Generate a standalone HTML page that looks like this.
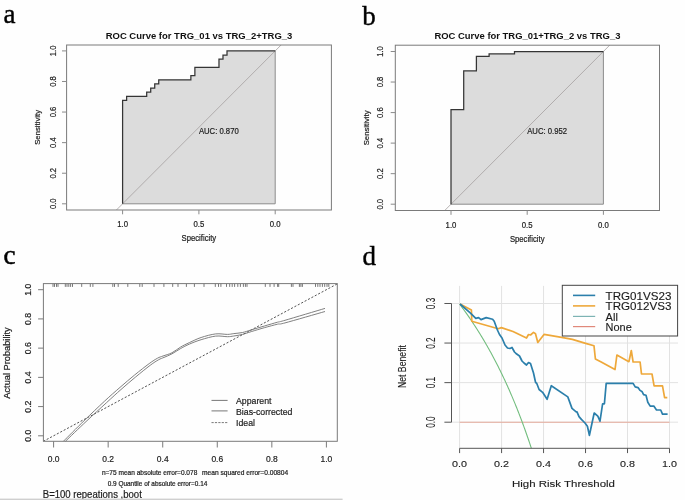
<!DOCTYPE html>
<html><head><meta charset="utf-8"><style>
html,body{margin:0;padding:0;background:#fefefe;}
svg{display:block;filter:blur(0.3px);}
</style></head><body>
<svg width="685" height="500" viewBox="0 0 685 500">
<rect width="685" height="500" fill="#fefefe"/>
<path d="M122.6 203.8 L122.6 100.49 L126.62 100.49 L126.62 96.36 L146.69 96.36 L146.69 92.22 L150.71 92.22 L150.71 88.09 L154.73 88.09 L154.73 83.96 L158.74 83.96 L158.74 79.83 L190.87 79.83 L190.87 75.69 L194.88 75.69 L194.88 67.43 L218.98 67.43 L218.98 59.16 L222.99 59.16 L222.99 55.03 L227.01 55.03 L227.01 50.9 L275.2 50.9 L275.2 203.8 L275.2 203.8 L122.6 203.8 Z" stroke="none" stroke-width="0" fill="#dcdcdc"/>
<clipPath id="ca"><rect x="66.6" y="45" width="264.8" height="165"/></clipPath>
<line x1="92.08" y1="234.38" x2="305.72" y2="20.32" stroke="#a9a4a4" stroke-width="0.85" clip-path="url(#ca)"/>
<line x1="275.2" y1="50.9" x2="275.2" y2="203.8" stroke="#8c8c8c" stroke-width="1"/>
<line x1="122.6" y1="203.8" x2="275.2" y2="203.8" stroke="#8c8c8c" stroke-width="1"/>
<path d="M122.6 203.8 L122.6 100.49 L126.62 100.49 L126.62 96.36 L146.69 96.36 L146.69 92.22 L150.71 92.22 L150.71 88.09 L154.73 88.09 L154.73 83.96 L158.74 83.96 L158.74 79.83 L190.87 79.83 L190.87 75.69 L194.88 75.69 L194.88 67.43 L218.98 67.43 L218.98 59.16 L222.99 59.16 L222.99 55.03 L227.01 55.03 L227.01 50.9 L275.2 50.9" stroke="#353535" stroke-width="1.25" fill="none" stroke-linejoin="miter"/>
<rect x="66.6" y="45" width="264.8" height="165" fill="none" stroke="#7a7a7a" stroke-width="1"/>
<line x1="62" y1="203.8" x2="66.6" y2="203.8" stroke="#8a8a8a" stroke-width="1"/>
<text x="55.7" y="203.8" font-size="8.6" text-anchor="middle" font-weight="normal" fill="#1c1c1c" font-family='"Liberation Sans", sans-serif' transform="rotate(-90 55.7 203.8)" textLength="10.6" lengthAdjust="spacingAndGlyphs" stroke="#1c1c1c" stroke-width="0.2">0.0</text>
<line x1="62" y1="173.22" x2="66.6" y2="173.22" stroke="#8a8a8a" stroke-width="1"/>
<text x="55.7" y="173.22" font-size="8.6" text-anchor="middle" font-weight="normal" fill="#1c1c1c" font-family='"Liberation Sans", sans-serif' transform="rotate(-90 55.7 173.22)" textLength="10.6" lengthAdjust="spacingAndGlyphs" stroke="#1c1c1c" stroke-width="0.2">0.2</text>
<line x1="62" y1="142.64" x2="66.6" y2="142.64" stroke="#8a8a8a" stroke-width="1"/>
<text x="55.7" y="142.64" font-size="8.6" text-anchor="middle" font-weight="normal" fill="#1c1c1c" font-family='"Liberation Sans", sans-serif' transform="rotate(-90 55.7 142.64)" textLength="10.6" lengthAdjust="spacingAndGlyphs" stroke="#1c1c1c" stroke-width="0.2">0.4</text>
<line x1="62" y1="112.06" x2="66.6" y2="112.06" stroke="#8a8a8a" stroke-width="1"/>
<text x="55.7" y="112.06" font-size="8.6" text-anchor="middle" font-weight="normal" fill="#1c1c1c" font-family='"Liberation Sans", sans-serif' transform="rotate(-90 55.7 112.06)" textLength="10.6" lengthAdjust="spacingAndGlyphs" stroke="#1c1c1c" stroke-width="0.2">0.6</text>
<line x1="62" y1="81.48" x2="66.6" y2="81.48" stroke="#8a8a8a" stroke-width="1"/>
<text x="55.7" y="81.48" font-size="8.6" text-anchor="middle" font-weight="normal" fill="#1c1c1c" font-family='"Liberation Sans", sans-serif' transform="rotate(-90 55.7 81.48)" textLength="10.6" lengthAdjust="spacingAndGlyphs" stroke="#1c1c1c" stroke-width="0.2">0.8</text>
<line x1="62" y1="50.9" x2="66.6" y2="50.9" stroke="#8a8a8a" stroke-width="1"/>
<text x="55.7" y="50.9" font-size="8.6" text-anchor="middle" font-weight="normal" fill="#1c1c1c" font-family='"Liberation Sans", sans-serif' transform="rotate(-90 55.7 50.9)" textLength="10.6" lengthAdjust="spacingAndGlyphs" stroke="#1c1c1c" stroke-width="0.2">1.0</text>
<line x1="122.6" y1="210" x2="122.6" y2="214.3" stroke="#8a8a8a" stroke-width="1"/>
<text x="122.6" y="227.4" font-size="8.2" text-anchor="middle" font-weight="normal" fill="#1c1c1c" font-family='"Liberation Sans", sans-serif' textLength="10.8" lengthAdjust="spacingAndGlyphs" stroke="#1c1c1c" stroke-width="0.2">1.0</text>
<line x1="198.9" y1="210" x2="198.9" y2="214.3" stroke="#8a8a8a" stroke-width="1"/>
<text x="198.9" y="227.4" font-size="8.2" text-anchor="middle" font-weight="normal" fill="#1c1c1c" font-family='"Liberation Sans", sans-serif' textLength="10.8" lengthAdjust="spacingAndGlyphs" stroke="#1c1c1c" stroke-width="0.2">0.5</text>
<line x1="275.2" y1="210" x2="275.2" y2="214.3" stroke="#8a8a8a" stroke-width="1"/>
<text x="275.2" y="227.4" font-size="8.2" text-anchor="middle" font-weight="normal" fill="#1c1c1c" font-family='"Liberation Sans", sans-serif' textLength="10.8" lengthAdjust="spacingAndGlyphs" stroke="#1c1c1c" stroke-width="0.2">0.0</text>
<text x="40.5" y="127.35" font-size="7.5" text-anchor="middle" font-weight="normal" fill="#1c1c1c" font-family='"Liberation Sans", sans-serif' transform="rotate(-90 40.5 127.35)" textLength="35" lengthAdjust="spacingAndGlyphs" stroke="#1c1c1c" stroke-width="0.2">Sensitivity</text>
<text x="198.9" y="241.3" font-size="8.3" text-anchor="middle" font-weight="normal" fill="#1c1c1c" font-family='"Liberation Sans", sans-serif' textLength="34.6" lengthAdjust="spacingAndGlyphs" stroke="#1c1c1c" stroke-width="0.2">Specificity</text>
<text x="199" y="38.7" font-size="9.7" text-anchor="middle" font-weight="bold" fill="#111" font-family='"Liberation Sans", sans-serif' textLength="186.6" lengthAdjust="spacingAndGlyphs">ROC Curve for TRG_01 vs TRG_2+TRG_3</text>
<text x="198.9" y="133.8" font-size="8.3" text-anchor="start" font-weight="normal" fill="#1c1c1c" font-family='"Liberation Sans", sans-serif' textLength="39.8" lengthAdjust="spacingAndGlyphs" stroke="#1c1c1c" stroke-width="0.2">AUC: 0.870</text>
<path d="M451 204.2 L451 109.67 L463.7 109.67 L463.7 70.89 L476.4 70.89 L476.4 56.35 L489.1 56.35 L489.1 53.92 L514.5 53.92 L514.5 51.5 L603.4 51.5 L603.4 204.2 L603.4 204.2 L451 204.2 Z" stroke="none" stroke-width="0" fill="#dcdcdc"/>
<clipPath id="cb"><rect x="395.3" y="45.2" width="264.2" height="165.3"/></clipPath>
<line x1="420.52" y1="234.74" x2="633.88" y2="20.96" stroke="#a9a4a4" stroke-width="0.85" clip-path="url(#cb)"/>
<line x1="603.4" y1="51.5" x2="603.4" y2="204.2" stroke="#8c8c8c" stroke-width="1"/>
<line x1="451" y1="204.2" x2="603.4" y2="204.2" stroke="#8c8c8c" stroke-width="1"/>
<path d="M451 204.2 L451 109.67 L463.7 109.67 L463.7 70.89 L476.4 70.89 L476.4 56.35 L489.1 56.35 L489.1 53.92 L514.5 53.92 L514.5 51.5 L603.4 51.5" stroke="#353535" stroke-width="1.25" fill="none" stroke-linejoin="miter"/>
<rect x="395.3" y="45.2" width="264.2" height="165.3" fill="none" stroke="#7a7a7a" stroke-width="1"/>
<line x1="390.7" y1="204.2" x2="395.3" y2="204.2" stroke="#8a8a8a" stroke-width="1"/>
<text x="383.1" y="204.2" font-size="8.6" text-anchor="middle" font-weight="normal" fill="#1c1c1c" font-family='"Liberation Sans", sans-serif' transform="rotate(-90 383.1 204.2)" textLength="10.6" lengthAdjust="spacingAndGlyphs" stroke="#1c1c1c" stroke-width="0.2">0.0</text>
<line x1="390.7" y1="173.66" x2="395.3" y2="173.66" stroke="#8a8a8a" stroke-width="1"/>
<text x="383.1" y="173.66" font-size="8.6" text-anchor="middle" font-weight="normal" fill="#1c1c1c" font-family='"Liberation Sans", sans-serif' transform="rotate(-90 383.1 173.66)" textLength="10.6" lengthAdjust="spacingAndGlyphs" stroke="#1c1c1c" stroke-width="0.2">0.2</text>
<line x1="390.7" y1="143.12" x2="395.3" y2="143.12" stroke="#8a8a8a" stroke-width="1"/>
<text x="383.1" y="143.12" font-size="8.6" text-anchor="middle" font-weight="normal" fill="#1c1c1c" font-family='"Liberation Sans", sans-serif' transform="rotate(-90 383.1 143.12)" textLength="10.6" lengthAdjust="spacingAndGlyphs" stroke="#1c1c1c" stroke-width="0.2">0.4</text>
<line x1="390.7" y1="112.58" x2="395.3" y2="112.58" stroke="#8a8a8a" stroke-width="1"/>
<text x="383.1" y="112.58" font-size="8.6" text-anchor="middle" font-weight="normal" fill="#1c1c1c" font-family='"Liberation Sans", sans-serif' transform="rotate(-90 383.1 112.58)" textLength="10.6" lengthAdjust="spacingAndGlyphs" stroke="#1c1c1c" stroke-width="0.2">0.6</text>
<line x1="390.7" y1="82.04" x2="395.3" y2="82.04" stroke="#8a8a8a" stroke-width="1"/>
<text x="383.1" y="82.04" font-size="8.6" text-anchor="middle" font-weight="normal" fill="#1c1c1c" font-family='"Liberation Sans", sans-serif' transform="rotate(-90 383.1 82.04)" textLength="10.6" lengthAdjust="spacingAndGlyphs" stroke="#1c1c1c" stroke-width="0.2">0.8</text>
<line x1="390.7" y1="51.5" x2="395.3" y2="51.5" stroke="#8a8a8a" stroke-width="1"/>
<text x="383.1" y="51.5" font-size="8.6" text-anchor="middle" font-weight="normal" fill="#1c1c1c" font-family='"Liberation Sans", sans-serif' transform="rotate(-90 383.1 51.5)" textLength="10.6" lengthAdjust="spacingAndGlyphs" stroke="#1c1c1c" stroke-width="0.2">1.0</text>
<line x1="451" y1="210.5" x2="451" y2="214.8" stroke="#8a8a8a" stroke-width="1"/>
<text x="451" y="228" font-size="8.2" text-anchor="middle" font-weight="normal" fill="#1c1c1c" font-family='"Liberation Sans", sans-serif' textLength="10.8" lengthAdjust="spacingAndGlyphs" stroke="#1c1c1c" stroke-width="0.2">1.0</text>
<line x1="527.2" y1="210.5" x2="527.2" y2="214.8" stroke="#8a8a8a" stroke-width="1"/>
<text x="527.2" y="228" font-size="8.2" text-anchor="middle" font-weight="normal" fill="#1c1c1c" font-family='"Liberation Sans", sans-serif' textLength="10.8" lengthAdjust="spacingAndGlyphs" stroke="#1c1c1c" stroke-width="0.2">0.5</text>
<line x1="603.4" y1="210.5" x2="603.4" y2="214.8" stroke="#8a8a8a" stroke-width="1"/>
<text x="603.4" y="228" font-size="8.2" text-anchor="middle" font-weight="normal" fill="#1c1c1c" font-family='"Liberation Sans", sans-serif' textLength="10.8" lengthAdjust="spacingAndGlyphs" stroke="#1c1c1c" stroke-width="0.2">0.0</text>
<text x="368.6" y="127.85" font-size="7.5" text-anchor="middle" font-weight="normal" fill="#1c1c1c" font-family='"Liberation Sans", sans-serif' transform="rotate(-90 368.6 127.85)" textLength="35" lengthAdjust="spacingAndGlyphs" stroke="#1c1c1c" stroke-width="0.2">Sensitivity</text>
<text x="527.2" y="242" font-size="8.3" text-anchor="middle" font-weight="normal" fill="#1c1c1c" font-family='"Liberation Sans", sans-serif' textLength="34.6" lengthAdjust="spacingAndGlyphs" stroke="#1c1c1c" stroke-width="0.2">Specificity</text>
<text x="527.4" y="39.1" font-size="9.7" text-anchor="middle" font-weight="bold" fill="#111" font-family='"Liberation Sans", sans-serif' textLength="186" lengthAdjust="spacingAndGlyphs">ROC Curve for TRG_01+TRG_2 vs TRG_3</text>
<text x="527.2" y="134.4" font-size="8.3" text-anchor="start" font-weight="normal" fill="#1c1c1c" font-family='"Liberation Sans", sans-serif' textLength="39.8" lengthAdjust="spacingAndGlyphs" stroke="#1c1c1c" stroke-width="0.2">AUC: 0.952</text>
<text x="3.6" y="23.2" font-size="27" text-anchor="start" font-weight="normal" fill="#000" font-family='"Liberation Serif", serif' stroke="#000" stroke-width="0.4">a</text>
<text x="362.2" y="24.6" font-size="27" text-anchor="start" font-weight="normal" fill="#000" font-family='"Liberation Serif", serif' stroke="#000" stroke-width="0.4">b</text>
<text x="3.6" y="263.6" font-size="27" text-anchor="start" font-weight="normal" fill="#000" font-family='"Liberation Serif", serif' stroke="#000" stroke-width="0.55">c</text>
<text x="362.4" y="265.3" font-size="27" text-anchor="start" font-weight="normal" fill="#000" font-family='"Liberation Serif", serif' stroke="#000" stroke-width="0.4">d</text>
<clipPath id="cc"><rect x="43.4" y="283.6" width="293.9" height="157.7"/></clipPath>
<path d="M53 283.6 V286.9 M54.5 283.6 V286.9 M56.5 283.6 V286.9 M58 283.6 V286.9 M65.3 283.6 V286.9 M67 283.6 V286.9 M68.8 283.6 V286.9 M70.6 283.6 V286.9 M72.5 283.6 V286.9 M81.7 283.6 V286.9 M90.3 283.6 V286.9 M92.9 283.6 V286.9 M112.8 283.6 V286.9 M114.5 283.6 V286.9 M118.2 283.6 V286.9 M127.8 283.6 V286.9 M139.8 283.6 V286.9 M142.2 283.6 V286.9 M154 283.6 V286.9 M163.9 283.6 V286.9 M172.7 283.6 V286.9 M178 283.6 V286.9 M186.4 283.6 V286.9 M194.4 283.6 V286.9 M204 283.6 V286.9 M215.3 283.6 V286.9 M218.5 283.6 V286.9 M220.9 283.6 V286.9 M226.5 283.6 V286.9 M229.7 283.6 V286.9 M232.2 283.6 V286.9 M234.6 283.6 V286.9 M237.8 283.6 V286.9 M240.4 283.6 V286.9 M243.4 283.6 V286.9 M245.4 283.6 V286.9 M247 283.6 V286.9 M265.3 283.6 V286.9 M270 283.6 V286.9 M274.1 283.6 V286.9 M277.6 283.6 V286.9 M278.7 283.6 V286.9 M291.4 283.6 V286.9 M293 283.6 V286.9 M299.4 283.6 V286.9 M300.9 283.6 V286.9 M302.4 283.6 V286.9 M315.5 283.6 V286.9 M317.8 283.6 V286.9 M320 283.6 V286.9 M322.4 283.6 V286.9 M324.7 283.6 V286.9 M327 283.6 V286.9 M328.8 283.6 V286.9" stroke="#555" stroke-width="0.8"/>
<line x1="26.32" y1="450.41" x2="380.96" y2="260.48" stroke="#4a4a4a" stroke-width="0.95" stroke-dasharray="2.1 1.75" clip-path="url(#cc)"/>
<path d="M63.4 441.3 C66.83 437.88 77.15 427.48 84 420.8 C90.85 414.12 98.5 406.77 104.5 401.2 C110.5 395.63 114.98 391.77 120 387.4 C125.02 383.03 129.73 378.97 134.6 375 C139.47 371.03 145.38 366.4 149.2 363.6 C153.02 360.8 155.2 359.47 157.5 358.2 C159.8 356.93 160.6 356.9 163 356 C165.4 355.1 168.95 354.3 171.9 352.8 C174.85 351.3 177.78 348.7 180.7 347 C183.62 345.3 186 344.18 189.4 342.6 C192.8 341.02 196.72 338.95 201.1 337.5 C205.48 336.05 211.32 334.42 215.7 333.9 C220.08 333.38 224.38 334.45 227.4 334.4 C230.42 334.35 231.28 333.92 233.8 333.6 C236.32 333.28 239.58 333.12 242.5 332.5 C245.42 331.88 247.65 330.98 251.3 329.9 C254.95 328.82 260.03 327.28 264.4 326 C268.77 324.72 274.07 323.15 277.5 322.2 C280.93 321.25 277.08 322.6 285 320.3 C292.92 318 318.33 310.38 325 308.4" stroke="#727272" stroke-width="0.9" fill="none"/>
<path d="M65.4 441.3 C68.83 438.02 79.15 428.03 86 421.6 C92.85 415.17 100.67 408.05 106.5 402.7 C112.33 397.35 116.15 393.78 121 389.5 C125.85 385.22 130.73 381.03 135.6 377 C140.47 372.97 146.38 368.17 150.2 365.3 C154.02 362.43 156.2 361.12 158.5 359.8 C160.8 358.48 161.77 358.38 164 357.4 C166.23 356.42 169.12 355.38 171.9 353.9 C174.68 352.42 177.78 350.13 180.7 348.5 C183.62 346.87 186 345.57 189.4 344.1 C192.8 342.63 196.72 341.03 201.1 339.7 C205.48 338.37 211.32 336.6 215.7 336.1 C220.08 335.6 224.38 336.72 227.4 336.7 C230.42 336.68 231.28 336.38 233.8 336 C236.32 335.62 239.58 335.13 242.5 334.4 C245.42 333.67 247.65 332.72 251.3 331.6 C254.95 330.48 260.03 328.93 264.4 327.7 C268.77 326.47 274.07 325 277.5 324.2 C280.93 323.4 277.08 325.02 285 322.9 C292.92 320.78 318.33 313.4 325 311.5" stroke="#727272" stroke-width="0.9" fill="none"/>
<rect x="43.4" y="283.6" width="293.9" height="157.7" fill="none" stroke="#7a7a7a" stroke-width="1"/>
<line x1="38.1" y1="435.8" x2="43.4" y2="435.8" stroke="#7a7a7a" stroke-width="1"/>
<text x="30.6" y="435.8" font-size="8.7" text-anchor="middle" font-weight="normal" fill="#1c1c1c" font-family='"Liberation Sans", sans-serif' transform="rotate(-90 30.6 435.8)" stroke="#1c1c1c" stroke-width="0.2">0.0</text>
<line x1="53.6" y1="441.3" x2="53.6" y2="447.5" stroke="#7a7a7a" stroke-width="1"/>
<text x="53.6" y="462.3" font-size="9.2" text-anchor="middle" font-weight="normal" fill="#1c1c1c" font-family='"Liberation Sans", sans-serif' textLength="11.8" lengthAdjust="spacingAndGlyphs" stroke="#1c1c1c" stroke-width="0.2">0.0</text>
<line x1="38.1" y1="406.58" x2="43.4" y2="406.58" stroke="#7a7a7a" stroke-width="1"/>
<text x="30.6" y="406.58" font-size="8.7" text-anchor="middle" font-weight="normal" fill="#1c1c1c" font-family='"Liberation Sans", sans-serif' transform="rotate(-90 30.6 406.58)" stroke="#1c1c1c" stroke-width="0.2">0.2</text>
<line x1="108.16" y1="441.3" x2="108.16" y2="447.5" stroke="#7a7a7a" stroke-width="1"/>
<text x="108.16" y="462.3" font-size="9.2" text-anchor="middle" font-weight="normal" fill="#1c1c1c" font-family='"Liberation Sans", sans-serif' textLength="11.8" lengthAdjust="spacingAndGlyphs" stroke="#1c1c1c" stroke-width="0.2">0.2</text>
<line x1="38.1" y1="377.36" x2="43.4" y2="377.36" stroke="#7a7a7a" stroke-width="1"/>
<text x="30.6" y="377.36" font-size="8.7" text-anchor="middle" font-weight="normal" fill="#1c1c1c" font-family='"Liberation Sans", sans-serif' transform="rotate(-90 30.6 377.36)" stroke="#1c1c1c" stroke-width="0.2">0.4</text>
<line x1="162.72" y1="441.3" x2="162.72" y2="447.5" stroke="#7a7a7a" stroke-width="1"/>
<text x="162.72" y="462.3" font-size="9.2" text-anchor="middle" font-weight="normal" fill="#1c1c1c" font-family='"Liberation Sans", sans-serif' textLength="11.8" lengthAdjust="spacingAndGlyphs" stroke="#1c1c1c" stroke-width="0.2">0.4</text>
<line x1="38.1" y1="348.14" x2="43.4" y2="348.14" stroke="#7a7a7a" stroke-width="1"/>
<text x="30.6" y="348.14" font-size="8.7" text-anchor="middle" font-weight="normal" fill="#1c1c1c" font-family='"Liberation Sans", sans-serif' transform="rotate(-90 30.6 348.14)" stroke="#1c1c1c" stroke-width="0.2">0.6</text>
<line x1="217.28" y1="441.3" x2="217.28" y2="447.5" stroke="#7a7a7a" stroke-width="1"/>
<text x="217.28" y="462.3" font-size="9.2" text-anchor="middle" font-weight="normal" fill="#1c1c1c" font-family='"Liberation Sans", sans-serif' textLength="11.8" lengthAdjust="spacingAndGlyphs" stroke="#1c1c1c" stroke-width="0.2">0.6</text>
<line x1="38.1" y1="318.92" x2="43.4" y2="318.92" stroke="#7a7a7a" stroke-width="1"/>
<text x="30.6" y="318.92" font-size="8.7" text-anchor="middle" font-weight="normal" fill="#1c1c1c" font-family='"Liberation Sans", sans-serif' transform="rotate(-90 30.6 318.92)" stroke="#1c1c1c" stroke-width="0.2">0.8</text>
<line x1="271.84" y1="441.3" x2="271.84" y2="447.5" stroke="#7a7a7a" stroke-width="1"/>
<text x="271.84" y="462.3" font-size="9.2" text-anchor="middle" font-weight="normal" fill="#1c1c1c" font-family='"Liberation Sans", sans-serif' textLength="11.8" lengthAdjust="spacingAndGlyphs" stroke="#1c1c1c" stroke-width="0.2">0.8</text>
<line x1="38.1" y1="289.7" x2="43.4" y2="289.7" stroke="#7a7a7a" stroke-width="1"/>
<text x="30.6" y="289.7" font-size="8.7" text-anchor="middle" font-weight="normal" fill="#1c1c1c" font-family='"Liberation Sans", sans-serif' transform="rotate(-90 30.6 289.7)" stroke="#1c1c1c" stroke-width="0.2">1.0</text>
<line x1="326.4" y1="441.3" x2="326.4" y2="447.5" stroke="#7a7a7a" stroke-width="1"/>
<text x="326.4" y="462.3" font-size="9.2" text-anchor="middle" font-weight="normal" fill="#1c1c1c" font-family='"Liberation Sans", sans-serif' textLength="11.8" lengthAdjust="spacingAndGlyphs" stroke="#1c1c1c" stroke-width="0.2">1.0</text>
<text x="10.3" y="363" font-size="9.4" text-anchor="middle" font-weight="normal" fill="#1c1c1c" font-family='"Liberation Sans", sans-serif' transform="rotate(-90 10.3 363)" textLength="71.4" lengthAdjust="spacingAndGlyphs" stroke="#1c1c1c" stroke-width="0.2">Actual Probability</text>
<line x1="211.5" y1="400.4" x2="227.6" y2="400.4" stroke="#555" stroke-width="0.8"/>
<text x="236" y="404" font-size="9.7" text-anchor="start" font-weight="normal" fill="#1c1c1c" font-family='"Liberation Sans", sans-serif' textLength="35.51" lengthAdjust="spacingAndGlyphs" stroke="#1c1c1c" stroke-width="0.2">Apparent</text>
<line x1="211.5" y1="410.9" x2="227.6" y2="410.9" stroke="#555" stroke-width="0.8"/>
<text x="236" y="414.5" font-size="9.7" text-anchor="start" font-weight="normal" fill="#1c1c1c" font-family='"Liberation Sans", sans-serif' textLength="56.41" lengthAdjust="spacingAndGlyphs" stroke="#1c1c1c" stroke-width="0.2">Bias-corrected</text>
<line x1="211.5" y1="422.6" x2="227.6" y2="422.6" stroke="#555" stroke-width="0.8" stroke-dasharray="2.2 1.2"/>
<text x="236" y="426.2" font-size="9.7" text-anchor="start" font-weight="normal" fill="#1c1c1c" font-family='"Liberation Sans", sans-serif' textLength="18.97" lengthAdjust="spacingAndGlyphs" stroke="#1c1c1c" stroke-width="0.2">Ideal</text>
<text x="101.9" y="475" font-size="6.6" text-anchor="start" font-weight="normal" fill="#1c1c1c" font-family='"Liberation Sans", sans-serif' textLength="95.4" lengthAdjust="spacingAndGlyphs" stroke="#1c1c1c" stroke-width="0.2">n=75 mean absolute error=0.078</text>
<text x="202" y="475" font-size="6.6" text-anchor="start" font-weight="normal" fill="#1c1c1c" font-family='"Liberation Sans", sans-serif' textLength="86.2" lengthAdjust="spacingAndGlyphs" stroke="#1c1c1c" stroke-width="0.2">mean squared error=0.00804</text>
<text x="107.7" y="486.4" font-size="6.6" text-anchor="start" font-weight="normal" fill="#1c1c1c" font-family='"Liberation Sans", sans-serif' textLength="99.6" lengthAdjust="spacingAndGlyphs" stroke="#1c1c1c" stroke-width="0.2">0.9 Quantile of absolute error=0.14</text>
<text x="42.8" y="497.5" font-size="10.4" text-anchor="start" font-weight="normal" fill="#1c1c1c" font-family='"Liberation Sans", sans-serif' textLength="99" lengthAdjust="spacingAndGlyphs" stroke="#1c1c1c" stroke-width="0.2">B=100 repeations ,boot</text>
<rect x="0" y="498.6" width="342.6" height="1.4" fill="#cfcfcf"/>
<clipPath id="cd"><rect x="451.5" y="285.9" width="226.5" height="162.4"/></clipPath>
<line x1="459.6" y1="285.9" x2="459.6" y2="448.3" stroke="#e2e2e2" stroke-width="1"/>
<line x1="501.58" y1="285.9" x2="501.58" y2="448.3" stroke="#e2e2e2" stroke-width="1"/>
<line x1="543.56" y1="285.9" x2="543.56" y2="448.3" stroke="#e2e2e2" stroke-width="1"/>
<line x1="585.54" y1="285.9" x2="585.54" y2="448.3" stroke="#e2e2e2" stroke-width="1"/>
<line x1="627.52" y1="285.9" x2="627.52" y2="448.3" stroke="#e2e2e2" stroke-width="1"/>
<line x1="669.5" y1="285.9" x2="669.5" y2="448.3" stroke="#e2e2e2" stroke-width="1"/>
<line x1="451.5" y1="422.2" x2="678" y2="422.2" stroke="#e2e2e2" stroke-width="1"/>
<line x1="451.5" y1="382.63" x2="678" y2="382.63" stroke="#e2e2e2" stroke-width="1"/>
<line x1="451.5" y1="343.06" x2="678" y2="343.06" stroke="#e2e2e2" stroke-width="1"/>
<line x1="451.5" y1="303.49" x2="678" y2="303.49" stroke="#e2e2e2" stroke-width="1"/>
<line x1="459.6" y1="422.2" x2="669.5" y2="422.2" stroke="#e6ab9c" stroke-width="1.1"/>
<path d="M459.6 304.08 L460.12 304.78 L460.65 305.48 L461.17 306.18 L461.7 306.89 L462.22 307.6 L462.75 308.31 L463.27 309.03 L463.8 309.75 L464.32 310.47 L464.85 311.2 L465.37 311.93 L465.9 312.67 L466.42 313.41 L466.95 314.15 L467.47 314.9 L468 315.65 L468.52 316.4 L469.05 317.16 L469.57 317.93 L470.1 318.69 L470.62 319.46 L471.14 320.24 L471.67 321.02 L472.19 321.8 L472.72 322.59 L473.24 323.38 L473.77 324.18 L474.29 324.98 L474.82 325.78 L475.34 326.59 L475.87 327.4 L476.39 328.22 L476.92 329.04 L477.44 329.87 L477.97 330.7 L478.49 331.54 L479.02 332.38 L479.54 333.22 L480.07 334.07 L480.59 334.93 L481.11 335.79 L481.64 336.65 L482.16 337.52 L482.69 338.39 L483.21 339.27 L483.74 340.15 L484.26 341.04 L484.79 341.94 L485.31 342.83 L485.84 343.74 L486.36 344.65 L486.89 345.56 L487.41 346.48 L487.94 347.41 L488.46 348.34 L488.99 349.27 L489.51 350.21 L490.04 351.16 L490.56 352.11 L491.09 353.07 L491.61 354.03 L492.13 355 L492.66 355.98 L493.18 356.96 L493.71 357.94 L494.23 358.94 L494.76 359.93 L495.28 360.94 L495.81 361.95 L496.33 362.96 L496.86 363.99 L497.38 365.02 L497.91 366.05 L498.43 367.09 L498.96 368.14 L499.48 369.2 L500.01 370.26 L500.53 371.32 L501.06 372.4 L501.58 373.48 L502.1 374.57 L502.63 375.66 L503.15 376.76 L503.68 377.87 L504.2 378.99 L504.73 380.11 L505.25 381.24 L505.78 382.38 L506.3 383.52 L506.83 384.67 L507.35 385.83 L507.88 387 L508.4 388.17 L508.93 389.35 L509.45 390.54 L509.98 391.74 L510.5 392.95 L511.03 394.16 L511.55 395.38 L512.08 396.61 L512.6 397.85 L513.12 399.1 L513.65 400.35 L514.17 401.61 L514.7 402.88 L515.22 404.16 L515.75 405.45 L516.27 406.75 L516.8 408.06 L517.32 409.37 L517.85 410.7 L518.37 412.03 L518.9 413.38 L519.42 414.73 L519.95 416.09 L520.47 417.46 L521 418.84 L521.52 420.24 L522.05 421.64 L522.57 423.05 L523.09 424.47 L523.62 425.9 L524.14 427.34 L524.67 428.8 L525.19 430.26 L525.72 431.73 L526.24 433.22 L526.77 434.71 L527.29 436.22 L527.82 437.73 L528.34 439.26 L528.87 440.8 L529.39 442.36 L529.92 443.92 L530.44 445.49 L530.97 447.08 L531.49 448.68 L532.02 450.29 L532.54 451.92" stroke="#72bd7e" stroke-width="1.1" fill="none" clip-path="url(#cd)"/>
<path d="M460 304 L471.4 310 L471.8 321.2 L498.2 328.8 L501.4 327.6 L513 331.5 L526.5 338 L528.5 334.5 L530.5 335 L533.5 332.4 L535.5 333.7 L537.8 342.5 L544 334.4 L561.6 337.4 L572.4 339.4 L585.6 343.4 L594 345.8 L595.4 359 L601.2 362 L615 369.6 L616.9 355 L628.9 361.7 L631.3 350.5 L633.1 362 L640.1 362 L641.5 374 L652 374 L654.1 385.9 L662.5 385.9 L664.6 397.6 L667.3 397.6" stroke="#eea83a" stroke-width="1.7" fill="none" stroke-linejoin="round"/>
<path d="M460 304 L470.2 312.8 L473 315.6 L475.8 318.4 L478.6 317.6 L481 319.6 L486.2 317.6 L492.6 319.2 L494.2 321.2 L497.4 330 L499.5 334.5 L502 338 L505 345 L507.5 348 L510 348.5 L512 347.5 L514.5 352 L516 353.5 L519.5 356 L522 361 L524 363 L526.5 365 L528.5 362.5 L530.5 363.5 L533.5 373 L535.6 382.5 L536.7 383.2 L539.1 389.5 L542.6 392.3 L547.1 399.3 L551.3 385.7 L567.8 396.9 L572 408.4 L576.2 411.9 L577 411.8 L579 416.6 L581.4 419.4 L585 423 L587.4 426.2 L589.4 435.3 L594.2 413 L597.8 416.2 L600 421.2 L602.6 403.8 L604.4 403.8 L606.2 383.4 L633.1 383.4 L635.2 386.9 L638 387.6 L640.1 390.4 L642.2 391.8 L643.6 394.6 L646 395.3 L647.8 402.2 L650.2 406.1 L653.8 406.1 L656.5 410 L660.7 410 L662.5 414.2 L667.6 414.2" stroke="#2b7fab" stroke-width="1.7" fill="none" stroke-linejoin="round"/>
<line x1="451.5" y1="422.2" x2="451.5" y2="303.49" stroke="#555" stroke-width="1"/>
<line x1="444.4" y1="422.2" x2="451.5" y2="422.2" stroke="#555" stroke-width="1"/>
<text x="434.6" y="422.2" font-size="12.2" text-anchor="middle" font-weight="normal" fill="#1c1c1c" font-family='"Liberation Sans", sans-serif' transform="rotate(-90 434.6 422.2)" textLength="11.3" lengthAdjust="spacingAndGlyphs" stroke="#1c1c1c" stroke-width="0.12">0.0</text>
<line x1="444.4" y1="382.63" x2="451.5" y2="382.63" stroke="#555" stroke-width="1"/>
<text x="434.6" y="382.63" font-size="12.2" text-anchor="middle" font-weight="normal" fill="#1c1c1c" font-family='"Liberation Sans", sans-serif' transform="rotate(-90 434.6 382.63)" textLength="11.3" lengthAdjust="spacingAndGlyphs" stroke="#1c1c1c" stroke-width="0.12">0.1</text>
<line x1="444.4" y1="343.06" x2="451.5" y2="343.06" stroke="#555" stroke-width="1"/>
<text x="434.6" y="343.06" font-size="12.2" text-anchor="middle" font-weight="normal" fill="#1c1c1c" font-family='"Liberation Sans", sans-serif' transform="rotate(-90 434.6 343.06)" textLength="11.3" lengthAdjust="spacingAndGlyphs" stroke="#1c1c1c" stroke-width="0.12">0.2</text>
<line x1="444.4" y1="303.49" x2="451.5" y2="303.49" stroke="#555" stroke-width="1"/>
<text x="434.6" y="303.49" font-size="12.2" text-anchor="middle" font-weight="normal" fill="#1c1c1c" font-family='"Liberation Sans", sans-serif' transform="rotate(-90 434.6 303.49)" textLength="11.3" lengthAdjust="spacingAndGlyphs" stroke="#1c1c1c" stroke-width="0.12">0.3</text>
<line x1="459.6" y1="448.3" x2="669.5" y2="448.3" stroke="#555" stroke-width="1"/>
<line x1="459.6" y1="448.3" x2="459.6" y2="453.1" stroke="#555" stroke-width="1"/>
<text x="459.6" y="467" font-size="9.8" text-anchor="middle" font-weight="normal" fill="#1c1c1c" font-family='"Liberation Sans", sans-serif' textLength="15" lengthAdjust="spacingAndGlyphs" stroke="#1c1c1c" stroke-width="0.12">0.0</text>
<line x1="501.58" y1="448.3" x2="501.58" y2="453.1" stroke="#555" stroke-width="1"/>
<text x="501.58" y="467" font-size="9.8" text-anchor="middle" font-weight="normal" fill="#1c1c1c" font-family='"Liberation Sans", sans-serif' textLength="15" lengthAdjust="spacingAndGlyphs" stroke="#1c1c1c" stroke-width="0.12">0.2</text>
<line x1="543.56" y1="448.3" x2="543.56" y2="453.1" stroke="#555" stroke-width="1"/>
<text x="543.56" y="467" font-size="9.8" text-anchor="middle" font-weight="normal" fill="#1c1c1c" font-family='"Liberation Sans", sans-serif' textLength="15" lengthAdjust="spacingAndGlyphs" stroke="#1c1c1c" stroke-width="0.12">0.4</text>
<line x1="585.54" y1="448.3" x2="585.54" y2="453.1" stroke="#555" stroke-width="1"/>
<text x="585.54" y="467" font-size="9.8" text-anchor="middle" font-weight="normal" fill="#1c1c1c" font-family='"Liberation Sans", sans-serif' textLength="15" lengthAdjust="spacingAndGlyphs" stroke="#1c1c1c" stroke-width="0.12">0.6</text>
<line x1="627.52" y1="448.3" x2="627.52" y2="453.1" stroke="#555" stroke-width="1"/>
<text x="627.52" y="467" font-size="9.8" text-anchor="middle" font-weight="normal" fill="#1c1c1c" font-family='"Liberation Sans", sans-serif' textLength="15" lengthAdjust="spacingAndGlyphs" stroke="#1c1c1c" stroke-width="0.12">0.8</text>
<line x1="669.5" y1="448.3" x2="669.5" y2="453.1" stroke="#555" stroke-width="1"/>
<text x="669.5" y="467" font-size="9.8" text-anchor="middle" font-weight="normal" fill="#1c1c1c" font-family='"Liberation Sans", sans-serif' textLength="15" lengthAdjust="spacingAndGlyphs" stroke="#1c1c1c" stroke-width="0.12">1.0</text>
<text x="405.6" y="366.6" font-size="10.5" text-anchor="middle" font-weight="normal" fill="#1c1c1c" font-family='"Liberation Sans", sans-serif' transform="rotate(-90 405.6 366.6)" textLength="43" lengthAdjust="spacingAndGlyphs" stroke="#1c1c1c" stroke-width="0.12">Net Benefit</text>
<text x="563.5" y="487.1" font-size="9.2" text-anchor="middle" font-weight="normal" fill="#1c1c1c" font-family='"Liberation Sans", sans-serif' textLength="103" lengthAdjust="spacingAndGlyphs" stroke="#1c1c1c" stroke-width="0.12">High Risk Threshold</text>
<rect x="562.3" y="285.3" width="115.3" height="50.7" fill="#fefefe" stroke="#444" stroke-width="1"/>
<line x1="573" y1="295.4" x2="595.2" y2="295.4" stroke="#2b7fab" stroke-width="1.6"/>
<text x="605.6" y="299.8" font-size="10.6" text-anchor="start" font-weight="normal" fill="#1a1a1a" font-family='"Liberation Sans", sans-serif' textLength="65.8" lengthAdjust="spacingAndGlyphs" stroke="#1a1a1a" stroke-width="0.12">TRG01VS23</text>
<line x1="573" y1="305.9" x2="595.2" y2="305.9" stroke="#eea83a" stroke-width="1.6"/>
<text x="605.6" y="310.3" font-size="10.6" text-anchor="start" font-weight="normal" fill="#1a1a1a" font-family='"Liberation Sans", sans-serif' textLength="65.8" lengthAdjust="spacingAndGlyphs" stroke="#1a1a1a" stroke-width="0.12">TRG012VS3</text>
<line x1="573" y1="316.4" x2="595.2" y2="316.4" stroke="#7db3b3" stroke-width="1.2"/>
<text x="605.6" y="320.8" font-size="10.6" text-anchor="start" font-weight="normal" fill="#1a1a1a" font-family='"Liberation Sans", sans-serif' textLength="12.3" lengthAdjust="spacingAndGlyphs" stroke="#1a1a1a" stroke-width="0.12">All</text>
<line x1="573" y1="326.6" x2="595.2" y2="326.6" stroke="#e0887a" stroke-width="1.2"/>
<text x="605.6" y="331" font-size="10.6" text-anchor="start" font-weight="normal" fill="#1a1a1a" font-family='"Liberation Sans", sans-serif' textLength="26.2" lengthAdjust="spacingAndGlyphs" stroke="#1a1a1a" stroke-width="0.12">None</text>
</svg>
</body></html>
